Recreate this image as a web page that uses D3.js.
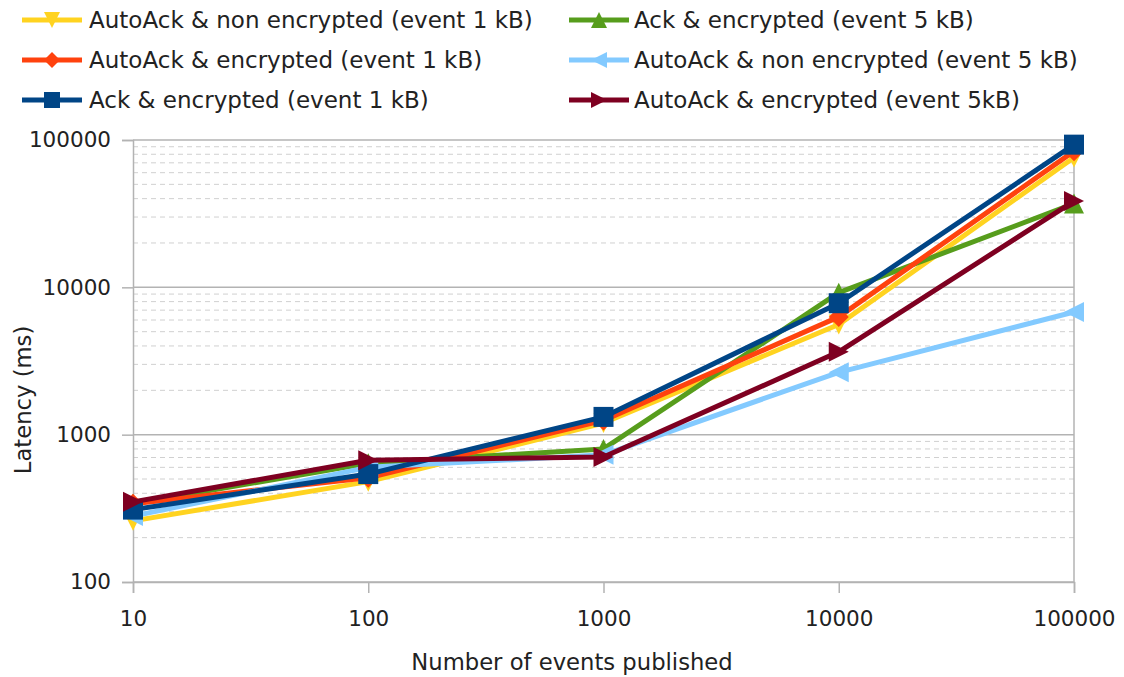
<!DOCTYPE html>
<html>
<head>
<meta charset="utf-8">
<script src="https://cdn.jsdelivr.net/npm/d3@7"></script>
<style>
  html, body { margin: 0; padding: 0; background: #fff; }
  svg text { font-family: "DejaVu Sans", sans-serif; fill: #222; }
</style>
</head>
<body>
<svg id="chart" width="1124" height="677"></svg>
<script>
// Number of events published (x) and latency in ms per configuration
const eventsPublished = [10, 100, 1000, 10000, 100000];
const yTickValues = [100, 1000, 10000, 100000];

const autoAckPlain1k  = [260, 480, 1200, 5600, 76000];
const autoAckEnc1k    = [340, 510, 1250, 6300, 84000];
const ackEnc1k        = [310, 540, 1320, 7800, 93000];
const ackEnc5k        = [340, 640, 800, 9200, 37000];
const autoAckPlain5k  = [280, 600, 730, 2650, 6800];
const autoAckEnc5k    = [350, 670, 705, 3650, 38500];

const seriesNames = [
  "AutoAck & non encrypted (event 1 kB)",
  "Ack & encrypted (event 5 kB)",
  "AutoAck & encrypted (event 1 kB)",
  "AutoAck & non encrypted (event 5 kB)",
  "Ack & encrypted (event 1 kB)",
  "AutoAck & encrypted (event 5kB)"
];
const seriesValues = [autoAckPlain1k, ackEnc5k, autoAckEnc1k, autoAckPlain5k, ackEnc1k, autoAckEnc5k];
const seriesColors = ["#ffd320", "#579d1c", "#ff420e", "#83caff", "#004586", "#7e0021"];
const seriesMarkers = ["down", "up", "diamond", "left", "square", "right"];

const svg = d3.select("#chart");
const plot = { left: 133, right: 1074, top: 140, bottom: 582 };

const x = d3.scaleLog().domain([10, 100000]).range([plot.left, plot.right]);
const y = d3.scaleLog().domain([100, 100000]).range([plot.bottom, plot.top]);

// Minor gridlines (2..9 within each decade)
const minor = [];
for (let d = 100; d < 100000; d *= 10) for (let k = 2; k <= 9; k++) minor.push(d * k);
svg.append("g").selectAll("line").data(minor).join("line")
  .attr("x1", plot.left).attr("x2", plot.right)
  .attr("y1", d => y(d)).attr("y2", d => y(d))
  .attr("stroke", "#d0d0d0").attr("stroke-width", 1).attr("stroke-dasharray", "5,4");

// Major gridlines
svg.append("g").selectAll("line").data(yTickValues).join("line")
  .attr("x1", plot.left).attr("x2", plot.right)
  .attr("y1", d => y(d)).attr("y2", d => y(d))
  .attr("stroke", "#b3b3b3").attr("stroke-width", 1.5);

// Right frame edge
svg.append("line")
  .attr("x1", plot.right).attr("x2", plot.right)
  .attr("y1", plot.top).attr("y2", plot.bottom)
  .attr("stroke", "#b3b3b3").attr("stroke-width", 1.5);

// Axes
const yAxis = d3.axisLeft(y).tickValues(yTickValues).tickFormat(d3.format("d")).tickSize(11).tickPadding(11);
const gy = svg.append("g").attr("transform", `translate(${plot.left},0)`).call(yAxis);
const xAxis = d3.axisBottom(x).tickValues(eventsPublished).tickFormat(d3.format("d")).tickSize(11).tickPadding(18);
const gx = svg.append("g").attr("transform", `translate(0,${plot.bottom})`).call(xAxis);
[gx, gy].forEach(g => {
  g.select(".domain").attr("stroke", "#b3b3b3").attr("stroke-width", 1.5);
  g.selectAll(".tick line").attr("stroke", "#b3b3b3").attr("stroke-width", 1.5);
  g.selectAll(".tick text").style("font-size", "21.5px").style("font-family", "DejaVu Sans").attr("fill", "#222");
});

// Axis titles
svg.append("text").attr("x", 572).attr("y", 670)
  .attr("text-anchor", "middle").style("font-size", "22.7px").text("Number of events published");
svg.append("text").attr("transform", `translate(31,400) rotate(-90)`)
  .attr("text-anchor", "middle").style("font-size", "22.7px").text("Latency (ms)");

// Marker shapes
function markerPath(type, s) {
  const h = s / 2;
  switch (type) {
    case "square": return `M${-h},${-h}H${h}V${h}H${-h}Z`;
    case "diamond": return `M0,${-h}L${h},0L0,${h}L${-h},0Z`;
    case "up": return `M0,${-h}L${h},${h}L${-h},${h}Z`;
    case "down": return `M${-h},${-h}L${h},${-h}L0,${h}Z`;
    case "left": return `M${-h},0L${h},${-h}L${h},${h}Z`;
    case "right": return `M${-h},${-h}L${h},0L${-h},${h}Z`;
  }
}

const line = d3.line().x((d, i) => x(eventsPublished[i])).y(d => y(d));
const seriesG = svg.append("g");
seriesValues.forEach((vals, si) => {
  const g = seriesG.append("g");
  g.append("path").datum(vals).attr("d", line)
    .attr("fill", "none").attr("stroke", seriesColors[si]).attr("stroke-width", 5)
    .attr("stroke-linejoin", "round");
  g.selectAll("path.m").data(vals).join("path").attr("class", "m")
    .attr("transform", (d, i) => `translate(${x(eventsPublished[i])},${y(d)})`)
    .attr("d", markerPath(seriesMarkers[si], 20))
    .attr("fill", seriesColors[si]);
});

// Legend: two columns, row-major
const legend = svg.append("g");
seriesNames.forEach((name, i) => {
  const col = i % 2, row = Math.floor(i / 2);
  const lx = col === 0 ? 22 : 569;
  const ly = 20 + row * 40;
  const g = legend.append("g").attr("transform", `translate(${lx},${ly})`);
  g.append("line").attr("x1", 0).attr("x2", 60).attr("y1", 0).attr("y2", 0)
    .attr("stroke", seriesColors[i]).attr("stroke-width", 5);
  g.append("path").attr("transform", "translate(30,0)")
    .attr("d", markerPath(seriesMarkers[i], 16)).attr("fill", seriesColors[i]);
  g.append("text").attr("x", col === 0 ? 67 : 65).attr("y", 0).attr("dy", "0.35em")
    .style("font-size", "23px").text(name);
});
</script>
</body>
</html>
